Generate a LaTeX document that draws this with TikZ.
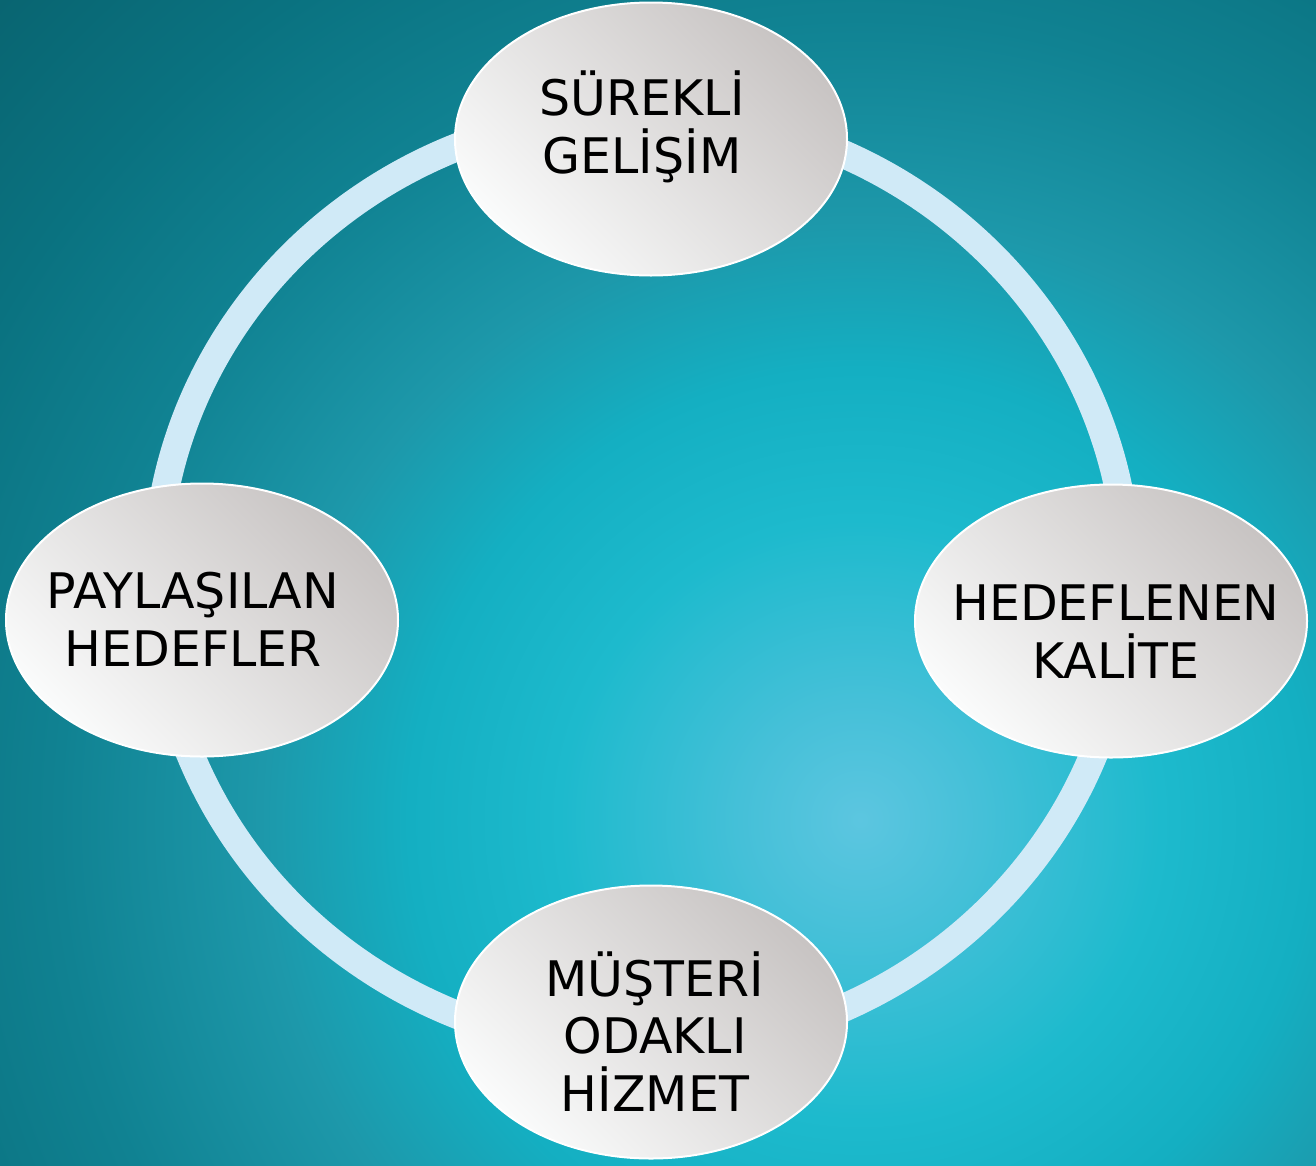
\documentclass[tikz,border=0pt]{standalone}
\usepackage{fontspec}
\setmainfont{DejaVu Sans}
\usetikzlibrary{shapes.geometric}

\definecolor{ringblue}{HTML}{D0EAF7}
\definecolor{ovalgray}{HTML}{C8C4C3}
\definecolor{ovalwhite}{HTML}{FAFBFB}
\definecolor{glow0}{HTML}{5CC6E0}
\definecolor{glow1}{HTML}{45C0D8}
\definecolor{glow2}{HTML}{1DBACD}
\definecolor{glow3}{HTML}{14AFC2}
\definecolor{glow4}{HTML}{1D98AA}
\definecolor{glow5}{HTML}{108292}
\definecolor{glow6}{HTML}{0A7280}
\definecolor{glow7}{HTML}{096470}

\pgfdeclareradialshading{bgglow}{\pgfpointorigin}{%
  color(0bp)=(glow0); color(2.5bp)=(glow1); color(6.25bp)=(glow2);
  color(9.4bp)=(glow3); color(12.5bp)=(glow4); color(16.7bp)=(glow5);
  color(20.8bp)=(glow6); color(25bp)=(glow7); color(50bp)=(glow7)}

\begin{document}
\begin{tikzpicture}
  [x=1pt,y=-1pt,
   oval/.style={ellipse,draw=white,line width=2pt,minimum width=392pt,
     minimum height=273pt,inner sep=0pt,top color=ovalgray,
     bottom color=ovalwhite,shading angle=-45},
   ovaltext/.style={anchor=base,align=center,text=black,
     font=\fontsize{49}{57.5}\selectfont}]
  \useasboundingbox (0,0) rectangle (1316,1165);

  % background
  \begin{scope}
    \clip (0,0) rectangle (1316,1165);
    \coordinate (glow) at (860,820);
    \shade[shading=bgglow] (glow) ++(-1200,-1200) rectangle ++(2400,2400);
  \end{scope}

  % ring
  \coordinate (ringc) at (642,581);
  \draw[ringblue,line width=28pt] (ringc) ellipse [x radius=486pt,y radius=469pt];

  \foreach \nm/\x/\y in {gelisim/651/139, kalite/1111/621, hizmet/651/1022, hedefler/202/620}
    \node[oval] (\nm) at (\x,\y) {};

  % base = last line
  \node[ovaltext] (gelisimtxt) at (642,173) {SÜREKLİ\\GELİŞİM};
  \node[ovaltext] (kalitetxt) at (1116,678) {HEDEFLENEN\\KALİTE};
  \node[ovaltext] (hizmettxt) at (655,1111) {MÜŞTERİ\\ODAKLI\\HİZMET};
  \node[ovaltext] (hedeflertxt) at (193,666) {PAYLAŞILAN\\HEDEFLER};

\end{tikzpicture}
\end{document}
